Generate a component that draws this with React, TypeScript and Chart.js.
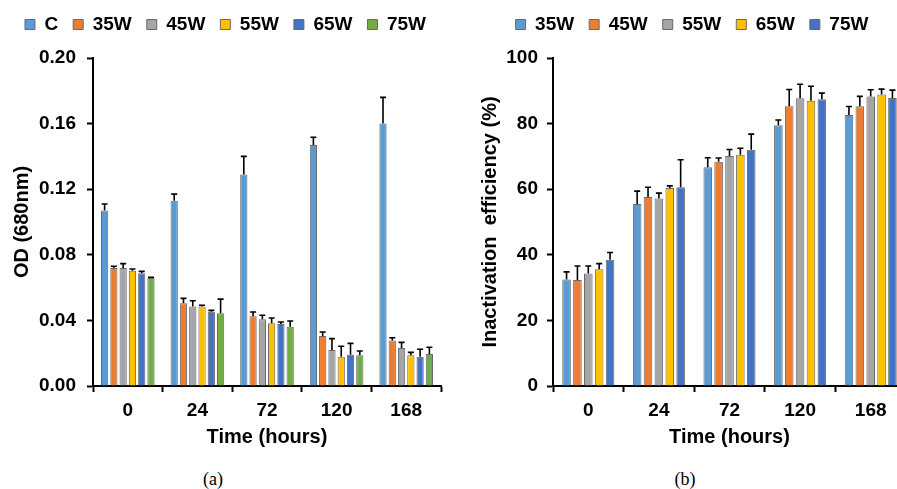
import React, { useEffect, useRef } from "react";
import { Chart, registerables } from "chart.js";

Chart.register(...registerables);

// ---------- Data ----------
const TIME_LABELS = ["0", "24", "72", "120", "168"];

// (a) OD (680nm)
const OD_SERIES = ["C", "35W", "45W", "55W", "65W", "75W"];
const OD_C = [0.107, 0.113, 0.129, 0.147, 0.16];
const OD_35W = [0.072, 0.0504, 0.0425, 0.0305, 0.0278];
const OD_45W = [0.072, 0.0484, 0.0407, 0.022, 0.0232];
const OD_55W = [0.0703, 0.0484, 0.0382, 0.0179, 0.0187];
const OD_65W = [0.0687, 0.0453, 0.0378, 0.0191, 0.0179];
const OD_75W = [0.0659, 0.0443, 0.0362, 0.0187, 0.0195];
const OD_C_ERR = [0.004, 0.004, 0.011, 0.0047, 0.016];
const OD_35W_ERR = [0.001, 0.003, 0.0026, 0.0024, 0.0016];
const OD_45W_ERR = [0.0026, 0.0036, 0.0024, 0.0069, 0.0034];
const OD_55W_ERR = [0.001, 0.0008, 0.0033, 0.0063, 0.0018];
const OD_65W_ERR = [0.0012, 0.0008, 0.0012, 0.0069, 0.0045];
const OD_75W_ERR = [0.0004, 0.0087, 0.0034, 0.0026, 0.0041];
const OD_TICKS = [0, 0.04, 0.08, 0.12, 0.16, 0.2];

// (b) Inactivation efficiency (%)
const IE_SERIES = ["35W", "45W", "55W", "65W", "75W"];
const IE_35W = [32.5, 55.5, 66.7, 79.5, 82.6];
const IE_45W = [32.3, 57.6, 68.4, 85.3, 85.3];
const IE_55W = [34.3, 57.2, 70.1, 87.7, 88.3];
const IE_65W = [35.6, 60.4, 70.5, 87.0, 88.9];
const IE_75W = [38.5, 60.6, 72.0, 87.4, 87.8];
const IE_35W_ERR = [2.3, 3.9, 2.9, 1.6, 2.6];
const IE_45W_ERR = [4.3, 3.0, 1.1, 5.1, 3.0];
const IE_55W_ERR = [2.3, 1.6, 2.0, 4.3, 2.0];
const IE_65W_ERR = [1.7, 0.6, 2.0, 4.4, 1.6];
const IE_75W_ERR = [2.2, 8.4, 4.8, 1.9, 2.4];
const IE_TICKS = [0, 20, 40, 60, 80, 100];

// ---------- Styling ----------
const FONT = '"Liberation Sans", Arial, sans-serif';
const C_LIGHTBLUE = "#5B9BD5";
const C_ORANGE = "#ED7D31";
const C_GRAY = "#A5A5A5";
const C_YELLOW = "#FFC000";
const C_BLUE = "#4472C4";
const C_GREEN = "#70AD47";
const BAR_BORDER = "#6a6a6a";

function errorBarPlugin(errs: number[][]) {
  return {
    id: "errorBars",
    afterDatasetsDraw(chart: any) {
      const ctx = chart.ctx;
      const yScale = chart.scales.y;
      ctx.save();
      ctx.strokeStyle = "#000";
      ctx.lineWidth = 1.6;
      chart.data.datasets.forEach((ds: any, i: number) => {
        const meta = chart.getDatasetMeta(i);
        meta.data.forEach((bar: any, j: number) => {
          const v = ds.data[j];
          const e = errs[i][j];
          const top = yScale.getPixelForValue(v + e);
          ctx.beginPath();
          ctx.moveTo(bar.x, bar.y);
          ctx.lineTo(bar.x, top);
          ctx.moveTo(bar.x - 3, top);
          ctx.lineTo(bar.x + 3, top);
          ctx.stroke();
        });
      });
      ctx.restore();
    },
  };
}

// Adds vertical room under the legend
function legendSpacer(extra: number) {
  return {
    id: "legendSpacer",
    beforeInit(chart: any) {
      const legend = chart.legend;
      if (!legend) return;
      const orig = legend.fit;
      legend.fit = function () {
        orig.call(this);
        this.height += extra;
      };
    },
  };
}

function makeConfig(opts: {
  series: string[];
  values: number[][];
  errs: number[][];
  colors: string[];
  yTitle: string;
  ticks: number[];
  decimals: number;
  yWidth: number;
  yTitlePad: number;
  yTickPad: number;
  rightGap: number;
  catPct: number;
  barPct: number;
}): any {
  const datasets = opts.series.map((name, i) => ({
    label: name,
    data: opts.values[i],
    backgroundColor: opts.colors[i],
    borderColor: BAR_BORDER,
    borderWidth: 1,
    categoryPercentage: opts.catPct,
    barPercentage: opts.barPct,
    yAxisID: "y",
  }));
  const tmin = opts.ticks[0];
  const tmax = opts.ticks[opts.ticks.length - 1];
  return {
    type: "bar",
    data: { labels: TIME_LABELS, datasets },
    options: {
      responsive: false,
      animation: false,
      devicePixelRatio: 1,
      layout: { padding: { top: 0, left: 0, right: 0, bottom: 3 } },
      plugins: {
        tooltip: { enabled: false },
        legend: {
          position: "top",
          labels: {
            boxWidth: 10,
            boxHeight: 10,
            padding: 15,
            color: "#000",
            font: { family: FONT, size: 19, weight: "bold" },
          },
        },
      },
      scales: {
        x: {
          grid: {
            display: true,
            drawOnChartArea: false,
            drawTicks: true,
            tickLength: 6,
            tickWidth: 2,
            color: "#000",
            offset: true,
          },
          border: { display: true, color: "#000", width: 2 },
          ticks: {
            color: "#000",
            padding: 7,
            font: { family: FONT, size: 19, weight: "bold" },
          },
          title: {
            display: true,
            text: "Time (hours)",
            color: "#000",
            padding: { top: 0, bottom: 0 },
            font: { family: FONT, size: 20, weight: "bold" },
          },
          afterFit: (s: any) => {
            s.height = 63;
          },
        },
        y: {
          min: tmin,
          max: tmax,
          position: "left",
          grid: {
            display: true,
            drawOnChartArea: false,
            drawTicks: true,
            tickLength: 6,
            tickWidth: 2,
            color: "#000",
          },
          border: { display: true, color: "#000", width: 2 },
          afterBuildTicks: (s: any) => {
            s.ticks = opts.ticks.map((v) => ({ value: v }));
          },
          ticks: {
            color: "#000",
            padding: opts.yTickPad,
            font: { family: FONT, size: 19, weight: "bold" },
            callback: (v: any) => Number(v).toFixed(opts.decimals),
          },
          title: {
            display: true,
            text: opts.yTitle,
            color: "#000",
            padding: { top: opts.yTitlePad, bottom: 0 },
            font: { family: FONT, size: 20, weight: "bold" },
          },
          afterFit: (s: any) => {
            s.width = opts.yWidth;
          },
        },
        // invisible spacer on the right side of the plot
        gap: {
          type: "linear",
          position: "right",
          display: true,
          grid: { display: false, drawTicks: false },
          border: { display: false },
          ticks: { display: false },
          title: { display: false },
          afterFit: (s: any) => {
            s.width = opts.rightGap;
          },
        },
      },
    },
    plugins: [errorBarPlugin(opts.errs), legendSpacer(14)],
  };
}

export default function App() {
  const leftRef = useRef<HTMLCanvasElement>(null);
  const rightRef = useRef<HTMLCanvasElement>(null);

  useEffect(() => {
    const c1 = new Chart(
      leftRef.current as HTMLCanvasElement,
      makeConfig({
        series: OD_SERIES,
        values: [OD_C, OD_35W, OD_45W, OD_55W, OD_65W, OD_75W],
        errs: [OD_C_ERR, OD_35W_ERR, OD_45W_ERR, OD_55W_ERR, OD_65W_ERR, OD_75W_ERR],
        colors: [C_LIGHTBLUE, C_ORANGE, C_GRAY, C_YELLOW, C_BLUE, C_GREEN],
        yTitle: "OD (680nm)",
        ticks: OD_TICKS,
        decimals: 2,
        yWidth: 93,
        yTitlePad: 10,
        yTickPad: 11,
        rightGap: 10,
        catPct: 0.8,
        barPct: 0.78,
      })
    );
    const c2 = new Chart(
      rightRef.current as HTMLCanvasElement,
      makeConfig({
        series: IE_SERIES,
        values: [IE_35W, IE_45W, IE_55W, IE_65W, IE_75W],
        errs: [IE_35W_ERR, IE_45W_ERR, IE_55W_ERR, IE_65W_ERR, IE_75W_ERR],
        colors: [C_LIGHTBLUE, C_ORANGE, C_GRAY, C_YELLOW, C_BLUE],
        yTitle: "Inactivation  efficiency (%)",
        ticks: IE_TICKS,
        decimals: 0,
        yWidth: 85,
        yTitlePad: 10,
        yTickPad: 9,
        rightGap: 10,
        catPct: 0.77,
        barPct: 0.79,
      })
    );
    return () => {
      c1.destroy();
      c2.destroy();
    };
  }, []);

  const caption: React.CSSProperties = {
    position: "absolute",
    top: 469,
    width: 100,
    textAlign: "center",
    lineHeight: "20px",
    fontFamily: '"Liberation Serif", "Times New Roman", serif',
    fontSize: 18,
    color: "#000",
  };

  return (
    <div
      style={{
        position: "fixed",
        left: 0,
        top: 0,
        width: 897,
        height: 489,
        overflow: "hidden",
        background: "#fff",
      }}
    >
      <canvas ref={leftRef} width={451} height={452} style={{ position: "absolute", left: 0, top: 0 }} />
      <canvas ref={rightRef} width={448} height={452} style={{ position: "absolute", left: 468, top: 0 }} />
      <div style={{ ...caption, left: 163 }}>(a)</div>
      <div style={{ ...caption, left: 635 }}>(b)</div>
    </div>
  );
}
